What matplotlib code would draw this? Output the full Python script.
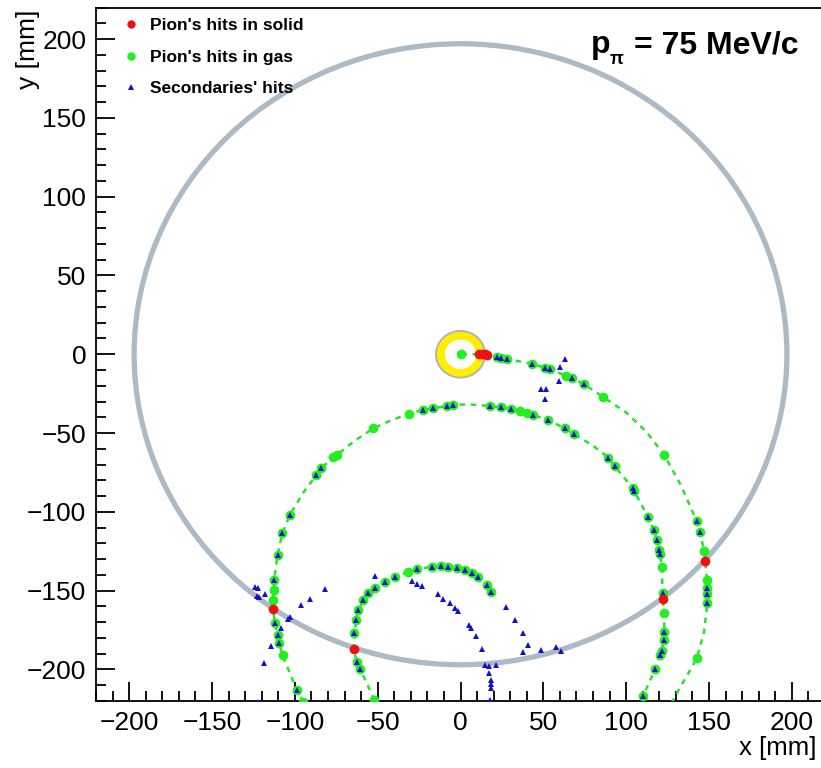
import matplotlib.pyplot as plt
from matplotlib.lines import Line2D
from matplotlib.patches import Circle
from matplotlib.ticker import MultipleLocator

plt.rcParams['font.family'] = ['Liberation Sans', 'DejaVu Sans']

# track points (x, y in mm) and hit kind:
# r = hit in solid, g = hit in gas, b = hit in gas with secondary on it, n = path only
track_a_x = [0.6, 11, 13, 15, 16, 22, 24.7, 28, 43, 51, 54, 63.4, 67, 74.5, 86, 100, 112, 115,
             123, 133, 142.6, 144.6, 147, 147.6, 148.8, 149, 149, 149, 147, 142.6, 129.5, 127.5]
track_a_y = [0, 0, 0, 0, -0.5, -2, -2.2, -3, -6, -8.5, -9.3, -13.6, -15, -19, -27, -37, -49, -53,
             -64, -83, -106, -112.6, -125, -131, -143, -148.6, -152, -158, -176, -193, -217, -221]
track_a_k = "grrrrbbbbbbgbbgnnngnbbgrgbbbngnn"

track_b_x = [-94.8, -98.8, -107.4, -109.4, -110.4, -111.8, -113.3, -113.3, -112.8, -112.5, -110.4,
             -107.6, -103, -95, -87, -84, -77, -74.7, -64, -52.6, -42, -31, -22.5, -16.5, -8.4,
             -4.4, 5, 17.7, 24.7, 30.7, 36, 40.4, 43.7, 53, 62.8, 68.5, 80, 89.3, 93, 104, 105,
             113, 116.6, 118.7, 120, 120.5, 121.5, 122, 122, 123, 123, 122.7, 121.5, 120.7,
             117.5, 110, 108.5]
track_b_y = [-220.5, -213, -191, -183.5, -178.2, -170.8, -161.7, -156, -149.6, -143.3, -127.4,
             -113.7, -102, -88, -76.6, -72.4, -65.4, -64, -55, -47, -42, -37.7, -35.2, -34.3, -32.8,
             -32.2, -31.8, -32.8, -33.7, -34.7, -35.8, -37, -38.5, -41.7, -47, -50.6, -58, -65.6,
             -71, -85, -87, -103, -111.6, -118, -124, -127, -135, -151.7, -155.4, -164, -176,
             -181, -188, -191, -200, -217, -221]
track_b_k = "gbgbbbrggbbbbnbbggngngbbbbnbbbggbbbbnbbbbbbbbbgbrgbbbbbbn"

track_c_x = [-52, -56, -60.6, -62.6, -64.5, -64, -63, -61.6, -58.6, -55.6, -51.6, -45.6, -39.6,
             -31.5, -26.5, -17.5, -12, -7.4, -2, 2.6, 7, 10.7, 15.7, 18.3]
track_c_y = [-219.5, -210, -199.4, -195, -187.3, -177, -168.7, -162, -156, -151.7, -148.6, -144.4,
             -141.2, -138, -136.3, -134.9, -134.5, -134.9, -135.8, -137, -139, -141.2, -146.5, -150.7]
track_c_k = "gnbbrbbbbbbbbgbbbbbbbbbb"

# secondaries' hits away from the pion tracks
sec_x = [62.8, 59.8, 59.4, 48.8, 51.4, 50.8,
         -51.6, -29.5, -26.5, -23, -13.8, -10.4, -6.4, -3.4, -1.8, 5.2, 6.2, 9.6, 13, 15, 16.9,
         21.6, 17, 18.3, 18.7, 18.7, 17.7, 16.3, 27.7, 32.7, 37.7, 40.8, 37.7, 48.8, 57.8, 60.8,
         -124, -122, -122.6, -121.6, -118, -81.7, -91, -96, -103, -104, -108.2, -114.2, -118.3,
         -122.3]
sec_y = [-3.2, -7.8, -16.7, -22, -22, -28.6,
         -141, -144, -146, -147, -152, -155, -158, -161, -162.8, -171.9, -174, -178.9, -186.7,
         -197.3, -198, -197, -202.5, -206.8, -209, -212, -219.5, -221, -160.6, -168.7, -177,
         -184.6, -188.8, -187.6, -186, -188.3,
         -147.5, -148.6, -153.5, -154, -152, -149, -155, -159, -166.6, -168, -173.6, -185, -196,
         -220.5]

chamber_r = 197
target_r = 12

fig = plt.figure(figsize=(8.21, 7.68), dpi=100)
ax = fig.add_axes([96 / 821, 1 - 701 / 768, 729 / 821, 693.5 / 768])

ax.add_patch(Circle((0, 0), chamber_r, fill=False, ec='#adbac6', lw=3.8, zorder=1))
ax.add_patch(Circle((0, 0), target_r, fill=False, ec='#ffee00', lw=6, zorder=2))
ax.add_patch(Circle((0, 0), target_r + 2.8, fill=False, ec='#b4b4b4', lw=1.4, zorder=2))

blue_x, blue_y = list(sec_x), list(sec_y)
for xs, ys, ks in [(track_a_x, track_a_y, track_a_k),
                   (track_b_x, track_b_y, track_b_k),
                   (track_c_x, track_c_y, track_c_k)]:
    ax.plot(xs, ys, color='#2ee02e', lw=1.8, ls=(0, (2.2, 2.2)), zorder=3)
    gx = [x for x, k in zip(xs, ks) if k in 'gb']
    gy = [y for y, k in zip(ys, ks) if k in 'gb']
    ax.plot(gx, gy, 'o', color='#22ee22', ms=7, mew=0, zorder=4)
    rx = [x for x, k in zip(xs, ks) if k == 'r']
    ry = [y for y, k in zip(ys, ks) if k == 'r']
    ax.plot(rx, ry, 'o', color='#ee1111', ms=7, mew=0, zorder=6)
    blue_x += [x for x, k in zip(xs, ks) if k == 'b']
    blue_y += [y for y, k in zip(ys, ks) if k == 'b']

ax.plot(blue_x, blue_y, '^', color='#1111cc', ms=4.6, mew=0, zorder=5)

ax.set_xlim(-220, 220)
ax.set_ylim(-220, 220)
ax.xaxis.set_major_locator(MultipleLocator(50))
ax.xaxis.set_minor_locator(MultipleLocator(10))
ax.yaxis.set_major_locator(MultipleLocator(50))
ax.yaxis.set_minor_locator(MultipleLocator(10))
ax.tick_params(which='both', direction='in', top=False, right=False, width=1.3, labelsize=19)
ax.tick_params(which='major', length=14, pad=7)
ax.tick_params(which='minor', length=7)
for s in ax.spines.values():
    s.set_linewidth(1.3)

fig.text(816 / 821, 1 - 748 / 768, 'x [mm]', ha='right', va='center', fontsize=18.5)
fig.text(28 / 821, 1 - 10 / 768, 'y [mm]', ha='center', va='top', rotation=90, fontsize=19)

# title: p with subscript pi, then the value
fig.text(591 / 821, 1 - 53 / 768, 'p', ha='left', va='baseline', fontsize=23, fontweight='bold')
fig.text(610 / 821, 1 - 64 / 768, 'π', ha='left', va='baseline', fontsize=13, fontweight='bold')
fig.text(798 / 821, 1 - 53 / 768, '= 75 MeV/c', ha='right', va='baseline',
         fontsize=23, fontweight='bold')

handles = [Line2D([], [], ls='', marker='o', color='#ee1111', ms=6, mew=0),
           Line2D([], [], ls='', marker='o', color='#22ee22', ms=6, mew=0),
           Line2D([], [], ls='', marker='^', color='#1111cc', ms=4, mew=0)]
ax.legend(handles, ["Pion's hits in solid", "Pion's hits in gas", "Secondaries' hits"],
          loc='upper left', bbox_to_anchor=(0.027, 0.995), frameon=False,
          prop={'weight': 'bold', 'size': 12.5}, handlelength=1.0, handletextpad=0.6,
          labelspacing=0.95, borderaxespad=0)

fig.savefig('out.png', dpi=100)
